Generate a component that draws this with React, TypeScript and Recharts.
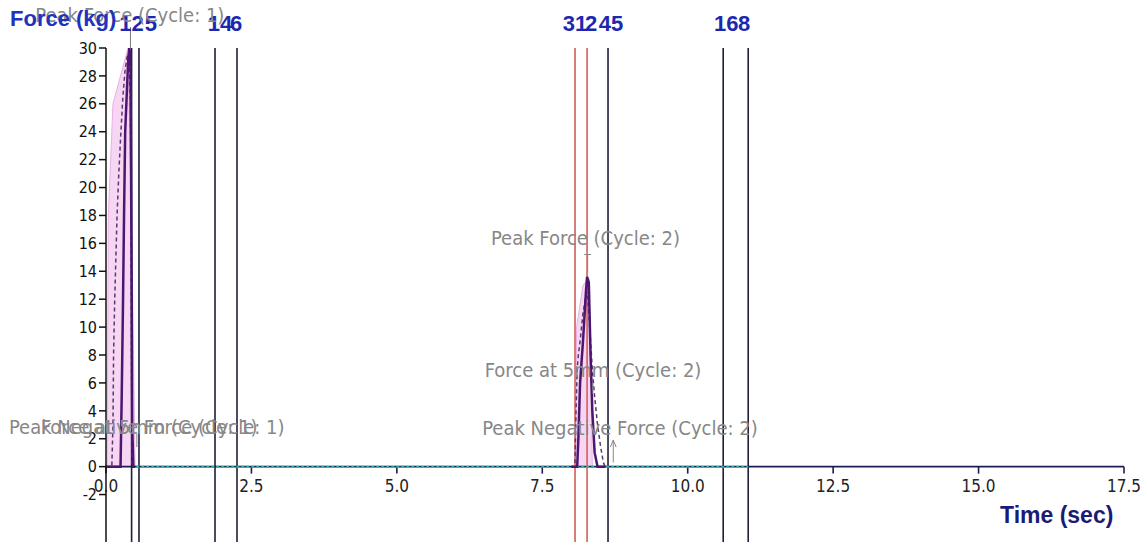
import React from 'react';
import { ComposedChart, Line, Area, XAxis, YAxis, ReferenceLine, ReferenceDot } from 'recharts';

const NARROW = "'Liberation Sans Narrow', 'Arial Narrow', 'DejaVu Sans Condensed', sans-serif";
const WIDE = "'Liberation Sans', Arial, sans-serif";

// cycle 1 trace (time in sec, force in kg)
const c1Time = [0.0, 0.1, 0.12, 0.13, 0.15, 0.17, 0.19, 0.22, 0.25, 0.27, 0.29, 0.31, 0.33, 0.36, 0.38, 0.4, 0.42, 0.43, 0.44, 0.45, 0.47, 0.5];
const c1Solid = [0, 0, 0, 0, 0, 0, 0, 0, 0, 5, 11, 18, 24, 27, 29, 30, 29.5, 22, 14, 3, 0, 0];
const c1Dashed = [0, 0, 3, 8, 12, 15, 18, 21, 23.5, 25, 26.5, 27.5, 28.5, 29.3, 29.6, 29, 26, 18, 6, 0, 0, 0];
const c1BandTime = [0.02, 0.04, 0.12, 0.38, 0.46, 0.5];
const c1BandForce = [0, 18, 26, 30, 12, 0];

// cycle 2 trace
const c2Time = [8.0, 8.06, 8.08, 8.1, 8.12, 8.15, 8.2, 8.25, 8.27, 8.3, 8.33, 8.36, 8.4, 8.45, 8.5, 8.55, 8.58];
const c2Solid = [0, 0, 0, 0, 2, 6, 9, 12.5, 13.6, 13.2, 8, 4, 1, 0, 0, 0, 0];
const c2Dashed = [0, 0, 4, 7, 8, 9, 11, 12.3, 12.5, 11, 9, 7, 5, 3, 1.5, 0.3, 0];
const c2BandTime = [8.07, 8.09, 8.2, 8.3, 8.34, 8.36];
const c2BandForce = [0, 10, 13, 13.5, 6, 0];

// baseline after the cycles
const baseTime = [0.52, 11.04];
const baseForce = [0, 0];

// vertical markers
const markerTimes = [0.44, 0.567, 1.874, 2.252, 8.063, 8.27, 8.63, 10.61, 11.04];
const markerLabels = ['12', '5', '14', '6', '31', '2', '45', '16', '8'];
const markerShift = [0, 12, 5, -1, 0, 4, 3, 3, -4];
const markerRed = [false, false, false, false, true, true, false, false, false];

const xTicks = [0, 2.5, 5, 7.5, 10, 12.5, 15, 17.5];
const yTicks = [-2, 0, 2, 4, 6, 8, 10, 12, 14, 16, 18, 20, 22, 24, 26, 28, 30];

// annotation texts (centre of text in data coords)
const noteText = [
  'Peak Force (Cycle: 1)',
  'Peak Negative Force (Cycle: 1)',
  'Force at 5mm (Cycle: 1)',
  'Peak Force (Cycle: 2)',
  'Force at 5mm (Cycle: 2)',
  'Peak Negative Force (Cycle: 2)',
];
const noteTime = [0.41, 0.7, 0.74, 8.243, 8.372, 8.836];
const noteForce = [32.4, 2.84, 2.84, 16.4, 6.9, 2.77];

const zip = (t: number[], a: number[], b?: number[]) =>
  t.map((x, i) => ({ t: x, solid: a[i], dashed: b ? b[i] : undefined, v: a[i] }));

const c1Data = zip(c1Time, c1Solid, c1Dashed);
const c2Data = zip(c2Time, c2Solid, c2Dashed);
const c1Band = zip(c1BandTime, c1BandForce);
const c2Band = zip(c2BandTime, c2BandForce);
const baseData = zip(baseTime, baseForce);

const App: React.FC = () => (
  <div style={{ position: 'absolute', left: 0, top: 0, width: 1146, height: 542, background: '#fff', overflow: 'hidden' }}>
    <ComposedChart width={1146} height={542} margin={{ top: 48, right: 22, left: 0, bottom: 0 }}>
      <XAxis type="number" dataKey="t" domain={[0, 17.5]} hide allowDataOverflow />
      <YAxis
        type="number"
        domain={[-5.4, 30]}
        ticks={yTicks}
        width={106}
        allowDataOverflow
        axisLine={{ stroke: '#111', strokeWidth: 1.5 }}
        tickLine={{ stroke: '#111', strokeWidth: 1.5 }}
        tickSize={7}
        tick={{ fill: '#111', fontSize: 16, fontFamily: NARROW }}
      />

      <Area data={c1Band} dataKey="v" type="linear" fill="#f7d6f4" fillOpacity={1} stroke="#eab0e6" isAnimationActive={false} />
      <Area data={c2Band} dataKey="v" type="linear" fill="#f7d6f4" fillOpacity={1} stroke="#eab0e6" isAnimationActive={false} />

      {/* x axis drawn at force = 0 */}
      <ReferenceLine y={0} stroke="#1c1c52" strokeWidth={1.6} />
      {xTicks.map((t) => (
        <ReferenceLine
          key={`xt${t}`}
          segment={[{ x: t, y: 0 }, { x: t, y: -0.5 }]}
          stroke="#1c1c52"
          strokeWidth={1.6}
          ifOverflow="visible"
          label={{ value: t.toFixed(1), position: 'bottom', offset: 6, fill: '#222', fontSize: 17, fontFamily: NARROW }}
        />
      ))}

      {markerTimes.map((t, i) => (
        <ReferenceLine
          key={`m${i}`}
          x={t}
          stroke={markerRed[i] ? '#d0605a' : '#1e1e3a'}
          strokeWidth={1.6}
          label={{ value: markerLabels[i], position: 'top', offset: 17, dx: markerShift[i], fill: '#1c28b0', fontSize: 22, fontWeight: 'bold', fontFamily: WIDE }}
        />
      ))}

      <Line data={baseData} dataKey="v" stroke="#2fb0a4" strokeWidth={2} strokeDasharray="3 2" dot={false} isAnimationActive={false} />

      <Line data={c1Data} dataKey="dashed" stroke="#5a3a6a" strokeWidth={1.5} strokeDasharray="4 3" dot={false} isAnimationActive={false} />
      <Line data={c1Data} dataKey="solid" stroke="#4a1670" strokeWidth={2.5} dot={false} isAnimationActive={false} />
      <Line data={c2Data} dataKey="dashed" stroke="#5a3a6a" strokeWidth={1.5} strokeDasharray="4 3" dot={false} isAnimationActive={false} />
      <Line data={c2Data} dataKey="solid" stroke="#4a1670" strokeWidth={2.5} dot={false} isAnimationActive={false} />

      {/* annotation pointers */}
      <ReferenceLine segment={[{ x: 0.42, y: 30 }, { x: 0.42, y: 31.5 }]} stroke="#777" ifOverflow="visible" />
      <ReferenceLine segment={[{ x: 8.28, y: 13.9 }, { x: 8.28, y: 15.2 }]} stroke="#888" />
      <ReferenceLine segment={[{ x: 8.22, y: 15.2 }, { x: 8.34, y: 15.2 }]} stroke="#888" />
      <ReferenceLine segment={[{ x: 8.72, y: 0.3 }, { x: 8.72, y: 1.9 }]} stroke="#888" />
      <ReferenceLine segment={[{ x: 8.67, y: 1.4 }, { x: 8.72, y: 1.9 }]} stroke="#888" />
      <ReferenceLine segment={[{ x: 8.77, y: 1.4 }, { x: 8.72, y: 1.9 }]} stroke="#888" />
      <ReferenceLine segment={[{ x: 8.37, y: 5.2 }, { x: 8.37, y: 6.0 }]} stroke="#888" />
      <ReferenceLine segment={[{ x: 0.53, y: 1.4 }, { x: 0.53, y: 2.4 }]} stroke="#888" />

      {noteText.map((s, i) => (
        <ReferenceDot
          key={`n${i}`}
          x={noteTime[i]}
          y={noteForce[i]}
          r={0}
          ifOverflow="visible"
          label={{ value: s, position: 'center', fill: '#878787', fontSize: 20, fontFamily: NARROW }}
        />
      ))}
    </ComposedChart>

    <div style={{ position: 'absolute', left: 10, top: 6, fontFamily: WIDE, fontWeight: 'bold', fontSize: 22, color: '#2233bb' }}>
      Force (kg)
    </div>
    <div style={{ position: 'absolute', left: 1000, top: 502, fontFamily: WIDE, fontWeight: 'bold', fontSize: 23, color: '#1a1a78' }}>
      Time (sec)
    </div>
  </div>
);

export default App;
